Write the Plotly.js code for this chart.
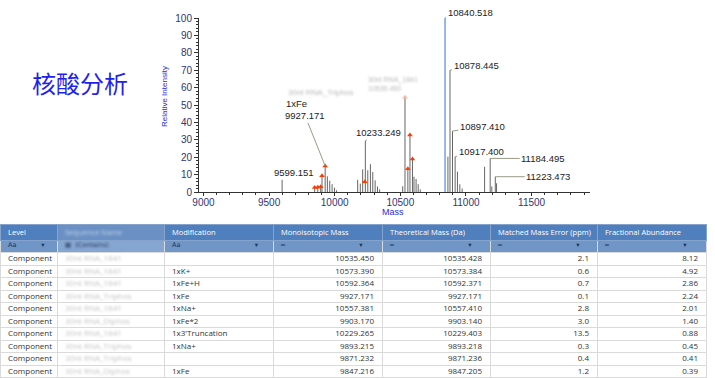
<!DOCTYPE html>
<html>
<head>
<meta charset="utf-8">
<script src="https://cdn.plot.ly/plotly-3.0.1.min.js"></script>
<style>
html,body{margin:0;padding:0;background:#fff;}
#chart{width:715px;height:378px;}
</style>
</head>
<body>
<div id="chart"></div>
<script>
// ---------- spectrum data ----------
var stickMass   = [9599.151,
  9847.2, 9871.2, 9893.2, 9903.2, 9927.171, 9944, 9962, 9980, 9998, 10014,
  10175, 10195, 10213, 10233.249, 10252, 10272, 10290, 10308, 10326, 10342,
  10518, 10535.45, 10557.4, 10573.4, 10592.4, 10604, 10620, 10636, 10652,
  10862.5, 10878.445, 10897.410, 10917.400, 10935, 10953, 10971,
  11142, 11184.495, 11197, 11223.473, 11233];
var stickHeight = [7.0,
  2.2, 2.4, 2.8, 9.0, 15.0, 9.0, 6.5, 4.5, 2.5, 1.0,
  7.0, 4.8, 13.0, 29.4, 12.5, 16.0, 11.5, 6.7, 3.2, 1.5,
  3.3, 54.5, 13.5, 33.0, 19.3, 8.8, 7.5, 4.5, 1.5,
  20.3, 70.0, 35.0, 20.3, 11.7, 4.4, 2.0,
  14.5, 19.3, 3.2, 8.8, 5.0];
var basePeakMass = [10840.518];
var basePeakHeight = [100];

// labelled peaks
var labelText   = ['10840.518','10878.445','10897.410','10917.400','11184.495','11223.473','9599.151','9927.171','10233.249'];
var labelMass   = [10840.518, 10878.445, 10897.410, 10917.400, 11184.495, 11223.473, 9599.151, 9927.171, 10233.249];
var labelHeight = [100, 70.0, 35.0, 20.3, 19.3, 8.8, 7.0, 15.0, 29.4];
var modLabelText = ['1xFe'];
var modLabelMass = [9927.171];
var modLabelHeight = [15.0];

// ---------- table data ----------
var colHeaders = ['Level','Sequence Name','Modification','Monoisotopic Mass','Theoretical Mass (Da)','Matched Mass Error (ppm)','Fractional Abundance'];
var levels  = ['Component','Component','Component','Component','Component','Component','Component','Component','Component','Component'];
var seqNames = ['30nt RNA_1841','30nt RNA_1841','30nt RNA_1841','30nt RNA_Triphos','30nt RNA_1841','30nt RNA_Diphos','30nt RNA_1841','30nt RNA_Triphos','30nt RNA_Triphos','30nt RNA_Diphos'];
var mods    = ['','1xK+','1xFe+H','1xFe','1xNa+','1xFe*2',"1x3'Truncation",'1xNa+','','1xFe'];
var monoMass = [10535.450,10573.390,10592.364,9927.171,10557.381,9903.170,10229.265,9893.215,9871.232,9847.216];
var theoMass = [10535.428,10573.384,10592.371,9927.171,10557.410,9903.140,10229.403,9893.218,9871.236,9847.205];
var massErr  = [2.1,0.6,0.7,0.1,2.8,3.0,13.5,0.3,0.4,1.2];
var abundance = [8.12,4.92,2.86,2.24,2.01,1.40,0.88,0.45,0.41,0.39];
// matched-component marker heights (same order as table)
var matchHeight = [54.5,32.7,19.0,14.9,13.4,9.3,5.9,3.0,2.7,2.6];

// ---------- build traces ----------
function sticks(ms, hs){
  var x=[], y=[];
  for (var i=0;i<ms.length;i++){ x.push(ms[i],ms[i],null); y.push(0,hs[i],null); }
  return {x:x,y:y};
}
var s1 = sticks(stickMass, stickHeight);
var s2 = sticks(basePeakMass, basePeakHeight);

var traces = [];
traces.push({type:'scatter', mode:'lines', x:s1.x, y:s1.y, line:{color:'#666666', width:1}, hoverinfo:'skip', xaxis:'x', yaxis:'y'});
traces.push({type:'scatter', mode:'lines', x:s2.x, y:s2.y, line:{color:'#4a8fd6', width:1.2}, hoverinfo:'skip', xaxis:'x', yaxis:'y'});
var markerColors = matchHeight.map(function(h,i){ return i===0 ? '#f7b8a2' : '#ff3c00'; });
traces.push({type:'scatter', mode:'markers', x:monoMass, y:matchHeight,
  marker:{symbol:'triangle-up', size:5, color:markerColors, line:{width:0}}, hoverinfo:'skip', xaxis:'x', yaxis:'y'});

// table (spaces -> no-break spaces so cells never wrap)
function nb(n){ return new Array(n+1).join('\u00a0'); }
function nw(s){ return String(s).replace(/ /g,'\u00a0'); }
var filterRow = ['Aa'+nb(12)+'▾', '▦'+nb(2)+'(Contains)', 'Aa'+nb(36)+'▾', '═'+nb(36)+'▾', '═'+nb(36)+'▾', '═'+nb(36)+'▾', '═'+nb(36)+'▾'];
var cols = [
  levels, seqNames.map(nw), mods,
  monoMass.map(function(v){return v.toFixed(3);}),
  theoMass.map(function(v){return v.toFixed(3);}),
  massErr.map(function(v){return v.toFixed(1);}),
  abundance.map(function(v){return v.toFixed(2);})
];
var cellValues = cols.map(function(c,i){ return [filterRow[i]].concat(c); });
var aligns = ['left','left','left','right','right','right','right'];
var cellAlign = cellValues.map(function(c,i){ return c.map(function(v,j){ return j===0 ? 'left' : aligns[i]; }); });
var cellFill = cellValues.map(function(c,i){ return c.map(function(v,j){ return j===0 ? (i===1 ? '#86a6d2' : '#7096c8') : '#ffffff'; }); });
var cellFontColor = cellValues.map(function(c,i){ return c.map(function(v,j){ return j===0 ? '#1f3454' : (i===1 ? '#c4c4c4' : '#333333'); }); });
var cellFontFamily = cellValues.map(function(c,i){ return c.map(function(v,j){ return j===0 ? 'DejaVu Sans' : 'Open Sans'; }); });
var cellFontSize = cellValues.map(function(c,i){ return c.map(function(v,j){ return j===0 ? 6.5 : 8; }); });
var headerFill = colHeaders.map(function(h,i){ return i===1 ? '#6b91c4' : '#4f7fbc'; });
var headerFontColor = colHeaders.map(function(h,i){ return i===1 ? '#b9cde6' : '#ffffff'; });

traces.push({
  type:'table',
  domain:{x:[0, 706/715], y:[0, 154/378]},
  columnwidth:[57,107,109,109,108,107,109],
  header:{values:colHeaders.map(nw), align:'left', height:16,
    fill:{color:headerFill}, line:{color:'#86a3cc', width:1},
    font:{family:'Open Sans', size:7.5, color:headerFontColor}},
  cells:{values:cellValues, align:cellAlign, height:12.5,
    fill:{color:cellFill}, line:{color:'#dadada', width:1},
    font:{family:cellFontFamily, size:cellFontSize, color:cellFontColor}}
});

// annotations
var annotations = [];
var labelFont = {family:'Liberation Sans, Arial, sans-serif', size:9.5, color:'#222222'};
var labelOffsets = [[25,-6],[26,-5],[30,-5],[26,-5],[53,0],[53,0],[12,-7],[-20,-50],[13,-8]];
for (var i=0;i<labelText.length;i++){
  annotations.push({x:labelMass[i], y:labelHeight[i], xref:'x', yref:'y', text:labelText[i],
    showarrow:true, arrowhead:0, arrowwidth:1, arrowcolor:'#9a9a8a', ax:labelOffsets[i][0], ay:labelOffsets[i][1],
    standoff:0, startstandoff:0, font:labelFont});
}
for (var k=0;k<modLabelText.length;k++){
  annotations.push({x:modLabelMass[k], y:modLabelHeight[k], xref:'x', yref:'y', text:modLabelText[k],
    showarrow:true, arrowcolor:'rgba(0,0,0,0)', ax:-29, ay:-62, font:labelFont});
}
// blurred component labels on the spectrum
annotations.push({x:321/715, y:1-92/378, xref:'paper', yref:'paper', xanchor:'center', yanchor:'middle', text:'30nt RNA_Triphos', showarrow:false,
  font:{family:'Liberation Sans, Arial, sans-serif', size:8, color:'#b8b8b8'}});
annotations.push({x:393/715, y:1-84/378, xref:'paper', yref:'paper', xanchor:'center', yanchor:'middle', text:'30nt RNA_1841<br>10535.450', showarrow:false, align:'left',
  font:{family:'Liberation Sans, Arial, sans-serif', size:7, color:'#b8b8b8'}});
// axis titles & side text
annotations.push({x:164/715, y:1-97/378, xref:'paper', yref:'paper', xanchor:'center', yanchor:'middle', text:'Relative Intensity', textangle:-90, showarrow:false,
  font:{family:'Liberation Sans, Arial, sans-serif', size:8, color:'#2b2bdd'}});
annotations.push({x:393/715, y:1-212/378, xref:'paper', yref:'paper', xanchor:'center', yanchor:'middle', text:'Mass', showarrow:false,
  font:{family:'Liberation Sans, Arial, sans-serif', size:9, color:'#2b2bdd'}});
annotations.push({x:80/715, y:1-83/378, xref:'paper', yref:'paper', xanchor:'center', yanchor:'middle', text:'核酸分析', showarrow:false,
  font:{family:'Noto Sans CJK SC, sans-serif', size:24, color:'#1f1ff0'}});

var tickFont = {family:'Liberation Sans, Arial, sans-serif', size:10, color:'#2f3575'};
var layout = {
  width:715, height:378, margin:{l:0,r:0,t:0,b:0},
  paper_bgcolor:'#ffffff', plot_bgcolor:'#ffffff', showlegend:false,
  xaxis:{domain:[199/715, 590/715], range:[8966, 11945], tick0:9000, dtick:500, tickformat:'d',
    showline:true, linecolor:'#333', linewidth:1, ticks:'outside', ticklen:3, tickcolor:'#333',
    showgrid:false, zeroline:false, tickfont:tickFont, anchor:'y', ticklabelstandoff:-2,
    minor:{dtick:100, ticks:'outside', ticklen:2, tickcolor:'#333', showgrid:false}},
  yaxis:{domain:[1-192/378, 1-18/378], range:[0,100], tick0:0, dtick:10,
    showline:true, linecolor:'#333', linewidth:1, ticks:'outside', ticklen:4, tickcolor:'#333',
    showgrid:false, zeroline:false, tickfont:tickFont, anchor:'x',
    minor:{dtick:2, ticks:'outside', ticklen:2, tickcolor:'#333', showgrid:false}},
  annotations:annotations
};

Plotly.newPlot('chart', traces, layout, {staticPlot:true, displayModeBar:false}).then(function(gd){
  var ns='http://www.w3.org/2000/svg';
  var svg = gd.querySelector('svg.main-svg');
  var defs = svg.querySelector('defs') || svg.insertBefore(document.createElementNS(ns,'defs'), svg.firstChild);
  var f = document.createElementNS(ns,'filter');
  f.setAttribute('id','blurF'); f.setAttribute('x','-20%'); f.setAttribute('y','-50%'); f.setAttribute('width','140%'); f.setAttribute('height','200%');
  var g = document.createElementNS(ns,'feGaussianBlur'); g.setAttribute('stdDeviation','1.2');
  f.appendChild(g); defs.appendChild(f);
  // lift table texts so they sit centred in the short rows
  var top = gd.getBoundingClientRect().top;
  gd.querySelectorAll('text.cell-text').forEach(function(t){
    var r = t.getBoundingClientRect();
    var cy = (r.top + r.bottom)/2 - top;
    var dy = cy < 241 ? -3 : -5.5;
    var tr = t.getAttribute('transform') || '';
    t.setAttribute('transform', tr + ' translate(0,' + dy + ')');
  });
  gd.querySelectorAll('text').forEach(function(t){
    var c = (t.textContent || '').replace(/\u00a0/g,' ');
    if (c.indexOf('30nt')===0 || c==='Sequence Name' || c.indexOf('▦')===0) t.setAttribute('filter','url(#blurF)');
  });
});
</script>
</body>
</html>
